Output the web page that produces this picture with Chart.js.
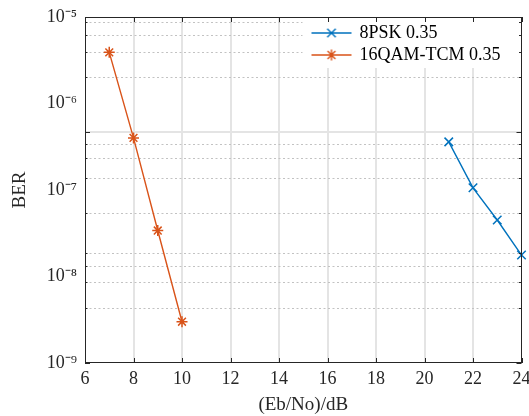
<!DOCTYPE html>
<html>
<head>
<meta charset="utf-8">
<script src="https://cdn.jsdelivr.net/npm/chart.js@4"></script>
<style>
  html, body { margin: 0; padding: 0; background: #fff; }
</style>
</head>
<body>
<canvas id="berChart" width="529" height="416"></canvas>
<script>
// --- data ---
const ebno8psk = [21, 22, 23, 24];
const ber8psk = [3.6e-7, 1.06e-7, 4.5e-8, 1.77e-8];
const ebnoQam = [7, 8, 9, 10];
const berQam = [3.9e-6, 4.0e-7, 3.4e-8, 3.0e-9];

// --- axis ticks ---
const xTicks = [6, 8, 10, 12, 14, 16, 18, 20, 22, 24];
const berTicks = [1e-9, 1e-8, 1e-7, 1e-6, 1e-5];        // labelled decades
const gridDecades = [1e-8, 1e-7, 1e-6];                 // grid axis (3 decades, as drawn)
const gridMantissas = [1, 2, 3, 4, 5, 6, 7, 8, 9];
const gridTicks = gridDecades.flatMap(d => gridMantissas.map(m => m * d)).concat([1e-5]);

const SERIF = '"Liberation Serif", "Times New Roman", serif';
const TEXT = '#262626';
const BLUE = '#0072BD';
const ORANGE = '#D95319';

const SUP = { '-': '\u207B', '0': '\u2070', '1': '\u00B9', '2': '\u00B2', '3': '\u00B3', '4': '\u2074',
              '5': '\u2075', '6': '\u2076', '7': '\u2077', '8': '\u2078', '9': '\u2079' };
const powLabel = v => '10' + String(Math.round(Math.log10(v))).split('').map(c => SUP[c]).join('');
const isDecade = v => Math.abs(Math.log10(v) - Math.round(Math.log10(v))) < 1e-6;
const toPoints = (xs, ys) => xs.map((x, i) => ({ x, y: ys[i] }));

// small line+marker glyph for the legend
function legendGlyph(color, star) {
    const c = document.createElement('canvas');
    c.width = 42;
    c.height = 14;
    const g = c.getContext('2d');
    g.strokeStyle = color;
    g.lineWidth = 1.4;
    g.beginPath();
    g.moveTo(1, 7);
    g.lineTo(41, 7);
    const r = star ? 5.5 : 6;
    const d = r * Math.SQRT1_2;
    if (star) {
        g.moveTo(21 - r, 7); g.lineTo(21 + r, 7);
        g.moveTo(21, 7 - r); g.lineTo(21, 7 + r);
    }
    g.moveTo(21 - d, 7 - d); g.lineTo(21 + d, 7 + d);
    g.moveTo(21 - d, 7 + d); g.lineTo(21 + d, 7 - d);
    g.stroke();
    return c;
}
const glyphs = [legendGlyph(BLUE, false), legendGlyph(ORANGE, true)];

// MATLAB-like axes: grid under everything, box + inward ticks on top
const matlabAxes = {
    id: 'matlabAxes',
    afterLayout(chart) {
        const a = chart.chartArea;
        const lg = chart.legend;
        lg.left = a.right - 213;
        lg.top = a.top + 3;
    },
    beforeDraw(chart) {
        const { ctx, chartArea: a, scales } = chart;
        const x = scales.x, yg = scales.yg;
        ctx.save();
        // vertical grid
        ctx.strokeStyle = '#e4e4e4';
        ctx.lineWidth = 2;
        x.ticks.forEach(t => {
            if (t.value <= x.min || t.value >= x.max) return;
            const px = Math.round(x.getPixelForValue(t.value));
            ctx.beginPath(); ctx.moveTo(px, a.top); ctx.lineTo(px, a.bottom); ctx.stroke();
        });
        // horizontal grid
        yg.ticks.forEach(t => {
            const py = yg.getPixelForValue(t.value);
            if (py <= a.top + 1 || py >= a.bottom - 1) return;
            ctx.beginPath();
            if (isDecade(t.value)) {
                ctx.setLineDash([]);
                ctx.strokeStyle = '#e4e4e4';
                ctx.lineWidth = 2;
                ctx.moveTo(a.left, Math.round(py)); ctx.lineTo(a.right, Math.round(py));
            } else {
                ctx.setLineDash([2, 2.5]);
                ctx.strokeStyle = '#c2c2c2';
                ctx.lineWidth = 1;
                ctx.moveTo(a.left, Math.round(py) + 0.5); ctx.lineTo(a.right, Math.round(py) + 0.5);
            }
            ctx.stroke();
        });
        ctx.setLineDash([]);
        // legend background
        ctx.fillStyle = '#fff';
        ctx.fillRect(a.right - 219, a.top + 1, 217, 50);
        ctx.restore();
    },
    afterDraw(chart) {
        const { ctx, chartArea: a, scales } = chart;
        const x = scales.x, yg = scales.yg;
        ctx.save();
        ctx.strokeStyle = TEXT;
        ctx.lineWidth = 1;
        ctx.beginPath();
        x.ticks.forEach(t => {
            const px = Math.round(x.getPixelForValue(t.value)) + 0.5;
            ctx.moveTo(px, a.bottom); ctx.lineTo(px, a.bottom - 5);
            ctx.moveTo(px, a.top); ctx.lineTo(px, a.top + 5);
        });
        yg.ticks.forEach(t => {
            const py = Math.round(yg.getPixelForValue(t.value)) + 0.5;
            const len = isDecade(t.value) ? 5 : 2.5;
            ctx.moveTo(a.left, py); ctx.lineTo(a.left + len, py);
            ctx.moveTo(a.right, py); ctx.lineTo(a.right - len, py);
        });
        ctx.stroke();
        ctx.strokeRect(Math.round(a.left) + 0.5, Math.round(a.top) + 0.5,
                       Math.round(a.right - a.left) - 1, Math.round(a.bottom - a.top) - 1);
        ctx.restore();
    }
};

const canvas = document.getElementById('berChart');
new Chart(canvas.getContext('2d'), {
    type: 'line',
    data: {
        datasets: [
            {
                label: '8PSK 0.35',
                data: toPoints(ebno8psk, ber8psk),
                borderColor: BLUE,
                backgroundColor: BLUE,
                borderWidth: 1.4,
                pointStyle: 'crossRot',
                pointRadius: 6,
                pointBorderWidth: 1.5,
                yAxisID: 'y',
                clip: false
            },
            {
                label: '16QAM-TCM 0.35',
                data: toPoints(ebnoQam, berQam),
                borderColor: ORANGE,
                backgroundColor: ORANGE,
                borderWidth: 1.4,
                pointStyle: 'star',
                pointRadius: 5.5,
                pointBorderWidth: 1.5,
                yAxisID: 'y',
                clip: false
            }
        ]
    },
    options: {
        responsive: false,
        animation: false,
        devicePixelRatio: 1,
        layout: { padding: { top: 17, right: 7, left: 0, bottom: 0 } },
        scales: {
            x: {
                type: 'linear',
                min: 6,
                max: 24,
                afterBuildTicks: s => { s.ticks = xTicks.map(v => ({ value: v })); },
                afterFit: s => { s.height = 53; s.paddingLeft = 0; s.paddingRight = 0; },
                grid: { display: false, drawTicks: false },
                border: { display: false },
                ticks: { padding: 5, color: TEXT, autoSkip: false, maxRotation: 0, font: { family: SERIF, size: 18 } },
                title: { display: true, text: '(Eb/No)/dB', color: TEXT, padding: { top: 0, bottom: 0 },
                         font: { family: SERIF, size: 19 } }
            },
            y: {
                type: 'logarithmic',
                position: 'left',
                min: 1e-9,
                max: 1e-5,
                afterBuildTicks: s => { s.ticks = berTicks.map(v => ({ value: v })); },
                afterFit: s => { s.width = 85; s.paddingTop = 0; s.paddingBottom = 0; },
                grid: { display: false, drawTicks: false },
                border: { display: false },
                ticks: { padding: 8, color: TEXT, autoSkip: false, font: { family: SERIF, size: 18 },
                         callback: v => powLabel(v) },
                title: { display: true, text: 'BER', color: TEXT, padding: { top: 9, bottom: 0 },
                         font: { family: SERIF, size: 19 } }
            },
            yg: {
                type: 'logarithmic',
                display: false,
                min: 1e-8,
                max: 1e-5,
                afterBuildTicks: s => { s.ticks = gridTicks.map(v => ({ value: v })); }
            }
        },
        plugins: {
            tooltip: { enabled: false },
            legend: {
                position: 'chartArea',
                align: 'start',
                labels: {
                    usePointStyle: true,
                    pointStyleWidth: 38,
                    padding: 4,
                    color: '#000',
                    font: { family: SERIF, size: 18 },
                    generateLabels: chart => {
                        const items = Chart.defaults.plugins.legend.labels.generateLabels(chart);
                        items.forEach((it, i) => { it.pointStyle = glyphs[i]; });
                        return items;
                    }
                }
            }
        }
    },
    plugins: [matlabAxes]
});
</script>
</body>
</html>
